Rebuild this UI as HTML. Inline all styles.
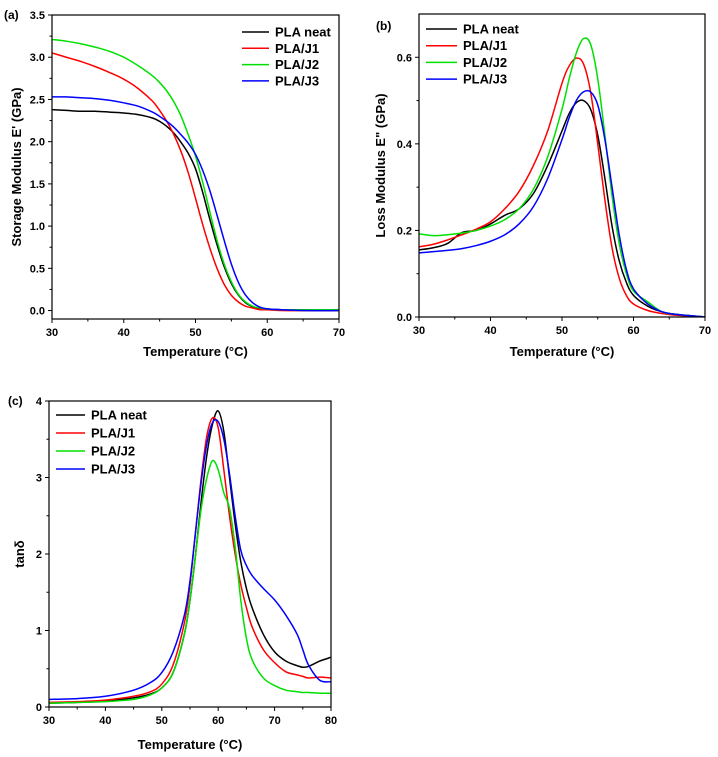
<!DOCTYPE html>
<html><head><meta charset="utf-8"><style>
body{margin:0;background:#fff}
svg{display:block;font-family:"Liberation Sans",sans-serif;font-weight:bold}
</style></head><body>
<svg id="s" width="718" height="757"></svg>
<script>
const colors=["#000000","#ff0000","#00e000","#0000ff"];
const seriesNames=["PLA neat","PLA/J1","PLA/J2","PLA/J3"];
// Panel a
const aX=[30,32,34,36,38,40,42,44,45,46,47,48,49,50,51,52,53,54,55,56,57,58,59,60,62,65,70];
const aBlack=[2.38,2.37,2.36,2.36,2.35,2.34,2.32,2.28,2.24,2.18,2.10,1.99,1.86,1.68,1.40,1.08,0.78,0.52,0.32,0.18,0.09,0.045,0.02,0.01,0.01,0.0,0.0];
const aRed=[3.05,3.0,2.95,2.89,2.82,2.74,2.63,2.48,2.37,2.24,2.08,1.88,1.63,1.33,1.02,0.74,0.50,0.31,0.18,0.10,0.05,0.03,0.01,0.01,0,0,0];
const aGreen=[3.21,3.19,3.16,3.12,3.07,3.0,2.90,2.78,2.70,2.60,2.47,2.30,2.08,1.83,1.52,1.17,0.83,0.55,0.34,0.19,0.10,0.05,0.03,0.02,0.01,0.01,0.01];
const aBlue=[2.53,2.53,2.52,2.51,2.49,2.46,2.42,2.35,2.30,2.24,2.17,2.08,1.98,1.85,1.66,1.42,1.13,0.83,0.55,0.33,0.18,0.09,0.04,0.02,0.01,0,0];
const aXTicks=["30","40","50","60","70"];
const aYTicks=["0.0","0.5","1.0","1.5","2.0","2.5","3.0","3.5"];
// Panel b
const bX=[30,32,34,36,38,40,42,44,46,48,50,51,52,53,54,55,56,57,58,59,60,62,64,66,70];
const bBlack=[0.155,0.16,0.17,0.195,0.20,0.215,0.235,0.25,0.285,0.35,0.43,0.47,0.495,0.50,0.48,0.42,0.32,0.21,0.13,0.08,0.05,0.025,0.012,0.006,0.0];
const bRed=[0.162,0.168,0.178,0.19,0.203,0.22,0.25,0.29,0.35,0.43,0.54,0.58,0.598,0.585,0.52,0.40,0.27,0.16,0.09,0.05,0.03,0.015,0.008,0.004,0];
const bGreen=[0.192,0.188,0.19,0.194,0.20,0.21,0.225,0.25,0.295,0.37,0.48,0.55,0.61,0.643,0.63,0.55,0.42,0.28,0.17,0.1,0.06,0.035,0.012,0.006,0];
const bBlue=[0.148,0.151,0.154,0.158,0.165,0.175,0.19,0.215,0.255,0.32,0.41,0.46,0.50,0.52,0.52,0.49,0.41,0.30,0.19,0.11,0.065,0.03,0.012,0.006,0];
const bXTicks=["30","40","50","60","70"];
const bYTicks=["0.0","0.2","0.4","0.6"];
// Panel c
const cX=[30,35,40,45,48,50,52,54,55,56,57,58,59,60,61,62,63,64,65,66,68,70,72,74,75,76,78,80];
const cBlack=[0.05,0.06,0.08,0.12,0.17,0.25,0.45,0.95,1.4,2.0,2.7,3.3,3.7,3.87,3.6,3.0,2.4,1.9,1.55,1.3,0.95,0.72,0.6,0.54,0.52,0.53,0.6,0.65];
const cRed=[0.06,0.07,0.09,0.14,0.2,0.3,0.55,1.1,1.6,2.3,3.0,3.55,3.78,3.65,3.1,2.5,2.0,1.6,1.3,1.05,0.75,0.58,0.46,0.42,0.4,0.38,0.39,0.38];
const cGreen=[0.05,0.06,0.07,0.1,0.16,0.25,0.45,0.95,1.4,2.0,2.6,3.0,3.22,3.1,2.8,2.6,2.1,1.4,0.9,0.62,0.38,0.28,0.22,0.2,0.19,0.19,0.18,0.18];
const cBlue=[0.1,0.11,0.14,0.22,0.32,0.45,0.72,1.2,1.65,2.3,2.95,3.45,3.72,3.73,3.5,3.05,2.5,2.05,1.85,1.72,1.55,1.4,1.2,0.95,0.75,0.55,0.35,0.33];
const cXTicks=["30","40","50","60","70","80"];
const cYTicks=["0","1","2","3","4"];

const svg=document.getElementById('s');
const NS="http://www.w3.org/2000/svg";
function mk(tag,attrs,parent){const e=document.createElementNS(NS,tag);for(const k in attrs)e.setAttribute(k,attrs[k]);(parent||svg).appendChild(e);return e;}
function txt(str,attrs,parent){const e=mk('text',attrs,parent);e.textContent=str;return e;}
function pathFrom(pts){let d="M"+pts[0][0]+","+pts[0][1];for(let i=0;i<pts.length-1;i++){const p0=pts[Math.max(0,i-1)],p1=pts[i],p2=pts[i+1],p3=pts[Math.min(pts.length-1,i+2)];const c1x=p1[0]+(p2[0]-p0[0])/6,c1y=p1[1]+(p2[1]-p0[1])/6,c2x=p2[0]-(p3[0]-p1[0])/6,c2y=p2[1]-(p3[1]-p1[1])/6;d+=`C${c1x.toFixed(2)},${c1y.toFixed(2)} ${c2x.toFixed(2)},${c2y.toFixed(2)} ${p2[0].toFixed(2)},${p2[1].toFixed(2)}`;}return d;}

function panel(o){
  const g=mk('g',{});
  
  
  const sx=v=>o.L+(v-o.x0)/(o.x1-o.x0)*(o.R-o.L);
  const sy=v=>o.B-(v-o.y0)/(o.y1-o.y0)*(o.B-o.T);
  const clipId='clip'+o.id;
  const cp=mk('clipPath',{id:clipId},g);mk('rect',{x:o.L,y:o.T,width:o.R-o.L,height:o.B-o.T},cp);
  const lines=mk('g',{'clip-path':`url(#${clipId})`},g);
  o.series.forEach((ys,i)=>{
    const p=mk('path',{d:pathFrom(o.xs.map((x,j)=>[sx(x),sy(ys[j])])),fill:'none',stroke:colors[i],'stroke-width':1.5},lines);
    
    
  });
  const fr=mk('rect',{x:o.L,y:o.T,width:o.R-o.L,height:o.B-o.T,fill:'none',stroke:'#000','stroke-width':1.2},g);
  
  
  o.xt.forEach((t,i)=>{
    const v=parseFloat(t),x=sx(v);
    mk('line',{x1:x,x2:x,y1:o.B,y2:o.B+4,stroke:'#000'},g);
    if(i<o.xt.length-1){const xm=sx(v+(parseFloat(o.xt[1])-parseFloat(o.xt[0]))/2);mk('line',{x1:xm,x2:xm,y1:o.B,y2:o.B+2.5,stroke:'#000'},g);}
    const l=txt(t,{x:x,y:o.B+17,'text-anchor':'middle','font-size':11},g);
    
    
  });
  o.yt.forEach((t,i)=>{
    const v=parseFloat(t),y=sy(v);
    mk('line',{x1:o.L-4,x2:o.L,y1:y,y2:y,stroke:'#000'},g);
    const step=parseFloat(o.yt[1])-parseFloat(o.yt[0]);
    [v-step/2,v+step/2].forEach(m=>{if(m>o.y0&&m<o.y1&&(i===0||m>v)){const ym=sy(m);mk('line',{x1:o.L-2.5,x2:o.L,y1:ym,y2:ym,stroke:'#000'},g);}});
    const l=txt(t,{x:o.L-7,y:y+4,'text-anchor':'end','font-size':11},g);
    
    
  });
  const xt=txt('Temperature (°C)',{x:(o.L+o.R)/2,y:o.xtY,'text-anchor':'middle','font-size':13},g);
  
  
  const yt=txt(o.ylabel,{x:0,y:0,'text-anchor':'middle','font-size':13,transform:`translate(${o.ytX},${(o.T+o.B)/2}) rotate(-90)`},g);
  
  
  const pl=txt(o.label,{x:o.lx,y:o.ly,'font-size':12},g);
  
  
  const lg=mk('g',{},g);
  
  
  seriesNames.forEach((n,i)=>{
    const y=o.legY+i*o.legDy;
    const e=mk('g',{},lg);
    
    
    mk('line',{x1:o.legX,x2:o.legX+o.legW,y1:y,y2:y,stroke:colors[i],'stroke-width':1.5},e);
    txt(n,{x:o.legX+o.legW+6,y:y+4.5,'font-size':13},e);
  });
}
panel({id:'a',L:52,R:339,T:15,B:319,x0:30,x1:70,y0:-0.1,y1:3.5,xs:aX,series:[aBlack,aRed,aGreen,aBlue],xt:aXTicks,yt:aYTicks,ylabel:"Storage Modulus E' (GPa)",ytX:21,xtY:356,label:'(a)',lx:4,ly:19,legX:242,legW:27,legY:32,legDy:16.3});
panel({id:'b',L:419,R:705,T:14,B:317,x0:30,x1:70,y0:0,y1:0.7,xs:bX,series:[bBlack,bRed,bGreen,bBlue],xt:bXTicks,yt:bYTicks,ylabel:'Loss Modulus E" (GPa)',ytX:385,xtY:356,label:'(b)',lx:376,ly:30,legX:426,legW:31,legY:29,legDy:16.7});
panel({id:'c',L:49,R:331,T:401,B:707,x0:30,x1:80,y0:0,y1:4,xs:cX,series:[cBlack,cRed,cGreen,cBlue],xt:cXTicks,yt:cYTicks,ylabel:'tanδ',ytX:24,xtY:749,label:'(c)',lx:8,ly:405,legX:56,legW:29,legY:415,legDy:18});
</script>
</body></html>
